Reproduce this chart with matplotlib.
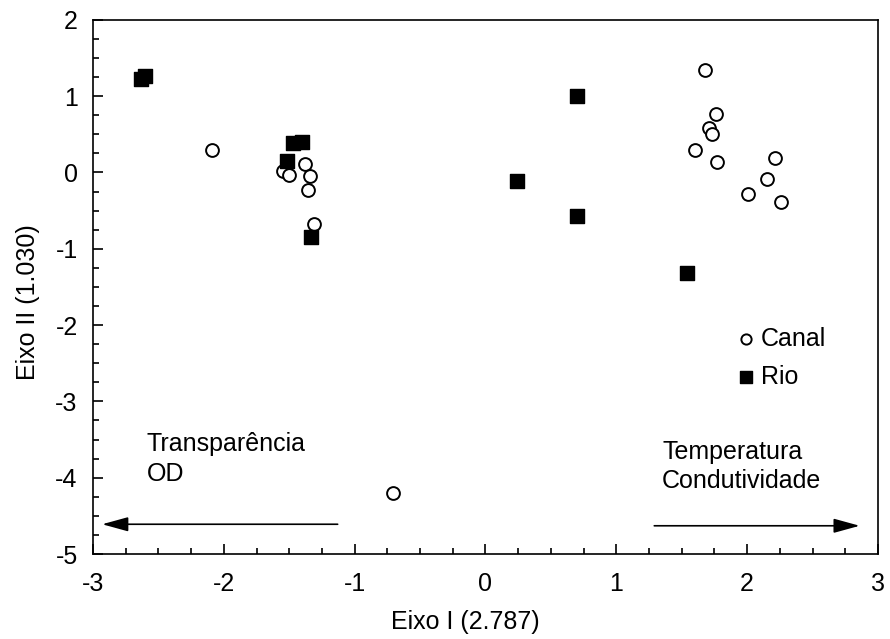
import matplotlib
matplotlib.use("Agg")
import matplotlib.pyplot as plt
from matplotlib.ticker import MultipleLocator

plt.rcParams['font.family'] = ['Liberation Sans', 'DejaVu Sans']
plt.rcParams['axes.unicode_minus'] = False

# site scores on the first two axes
canal_x = [-2.09, -1.55, -1.50, -1.38, -1.34, -1.36, -1.31, -0.71,
           1.68, 1.76, 1.71, 1.73, 1.60, 1.77, 2.21, 2.15, 2.01, 2.26]
canal_y = [0.29, 0.02, -0.03, 0.11, -0.05, -0.23, -0.67, -4.20,
           1.34, 0.76, 0.58, 0.50, 0.30, 0.14, 0.19, -0.08, -0.28, -0.39]

rio_x = [-2.63, -2.60, -1.47, -1.40, -1.52, -1.33, 0.70, 0.24, 0.70, 1.54]
rio_y = [1.23, 1.26, 0.39, 0.40, 0.15, -0.85, 1.00, -0.11, -0.57, -1.32]

fs = 18

fig = plt.figure(figsize=(8.9, 6.39), dpi=100)
ax = fig.add_axes([0.1045, 0.133, 0.882, 0.836])

ax.scatter(canal_x, canal_y, s=85, marker='o', facecolors='white',
           edgecolors='black', linewidths=1.4, label='Canal', zorder=3)
ax.scatter(rio_x, rio_y, s=105, marker='s', color='black',
           label='Rio', zorder=3)

ax.set_xlim(-3, 3)
ax.set_ylim(-5, 2)
ax.xaxis.set_major_locator(MultipleLocator(1))
ax.xaxis.set_minor_locator(MultipleLocator(0.25))
ax.yaxis.set_major_locator(MultipleLocator(1))
ax.yaxis.set_minor_locator(MultipleLocator(0.25))
ax.tick_params(which='both', direction='in', labelsize=fs, width=1.2)
ax.tick_params(which='major', length=7)
ax.tick_params(which='minor', length=4)
ax.tick_params(axis='x', pad=13)
ax.tick_params(axis='y', pad=11)
for sp in ax.spines.values():
    sp.set_linewidth(1.2)

ax.set_xlabel('Eixo I (2.787)', fontsize=fs)
ax.set_ylabel('Eixo II (1.030)', fontsize=fs)
ax.xaxis.set_label_coords(0.4745, -0.105)
ax.yaxis.set_label_coords(-0.067, 0.472)

# environmental gradients along axis I
arrow = dict(arrowstyle='-|>,head_length=0.8,head_width=0.22',
             color='black', lw=1.2, mutation_scale=20, shrinkA=0, shrinkB=0)
ax.annotate('', xy=(-2.93, -4.61), xytext=(-1.13, -4.61), arrowprops=arrow)
ax.annotate('', xy=(2.86, -4.63), xytext=(1.29, -4.63), arrowprops=arrow)
ax.text(-2.59, -3.40, 'Transparência\nOD', fontsize=fs, ha='left',
        va='top', linespacing=1.3)
ax.text(1.35, -3.50, 'Temperatura\nCondutividade', fontsize=fs, ha='left',
        va='top', linespacing=1.3)

ax.legend(loc='upper left', bbox_to_anchor=(0.816, 0.425), frameon=False,
          fontsize=fs, handlelength=1.0, handletextpad=0.1,
          labelspacing=0.55, markerscale=0.8, borderpad=0, borderaxespad=0)

fig.savefig('out.png', dpi=100)
